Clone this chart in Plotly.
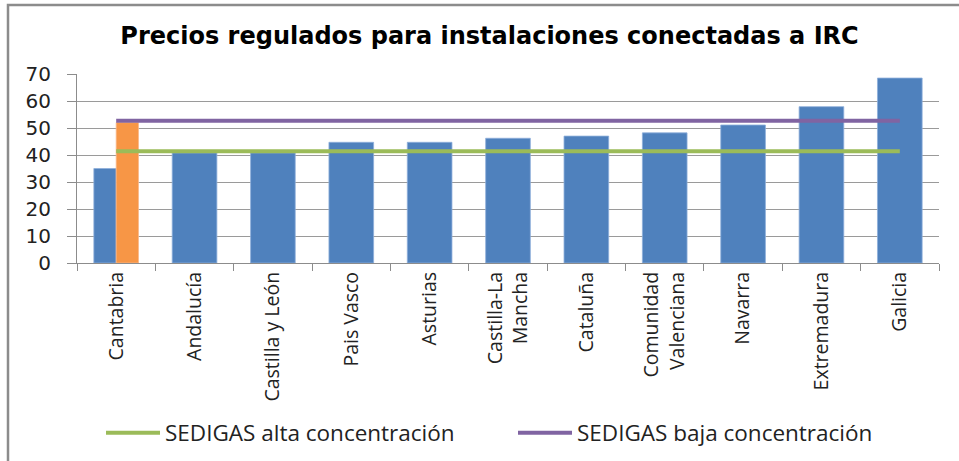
import plotly.graph_objects as go

categories = ["Cantabria", "Andalucía", "Castilla y León", "Pais Vasco", "Asturias",
              "Castilla-La<br>Mancha", "Cataluña", "Comunidad<br>Valenciana", "Navarra",
              "Extremadura", "Galicia"]
precios = [35.0, 40.8, 40.8, 44.7, 44.7, 46.2, 47.0, 48.2, 51.1, 57.9, 68.5]
cantabria_extra_cat = ["Cantabria"]
cantabria_extra = [52.0]
sedigas_alta = [41.4] * len(categories)
sedigas_baja = [52.7] * len(categories)
y_ticks = [0, 10, 20, 30, 40, 50, 60, 70]

BLUE = "#4F81BD"
ORANGE = "#F79646"
GREEN = "#9BBB59"
PURPLE = "#8064A2"

W, H = 959, 461
L, R, T, B = 77, 20, 74, 198
pw = W - L - R
ph = H - T - B

def px_x(x):
    return (x - L) / pw

def px_y(y):
    return (H - B - y) / ph

full_w = 0.57
half_w = 0.285
widths = [half_w] + [full_w] * (len(categories) - 1)
offsets = [-half_w] * len(categories)

fig = go.Figure()
fig.add_trace(go.Bar(x=categories, y=precios, width=widths, offset=offsets,
                     marker=dict(color=BLUE, line=dict(color="#8EAEDB", width=0.8)),
                     showlegend=False, hoverinfo="x+y"))
fig.add_trace(go.Bar(x=cantabria_extra_cat, y=cantabria_extra, width=[half_w], offset=[0],
                     marker=dict(color=ORANGE, line=dict(color="#FAB98A", width=0.8)),
                     showlegend=False))
fig.add_trace(go.Scatter(x=categories, y=sedigas_alta, mode="lines",
                         line=dict(color=GREEN, width=4),
                         name="SEDIGAS alta concentración"))
fig.add_trace(go.Scatter(x=categories, y=sedigas_baja, mode="lines",
                         line=dict(color=PURPLE, width=4),
                         name="SEDIGAS baja concentración"))

fig.update_layout(
    width=W, height=H,
    margin=dict(l=L, r=R, t=T, b=B, autoexpand=False),
    paper_bgcolor="white", plot_bgcolor="white",
    barmode="overlay",
    title=dict(text="<b>Precios regulados para instalaciones conectadas a IRC</b>",
               x=489.5 / W, xref="container", xanchor="center",
               y=1 - 36 / H, yref="container", yanchor="middle",
               font=dict(family="DejaVu Sans, sans-serif", size=24, color="black")),
    font=dict(family="Open Sans, sans-serif", size=17, color="#222222"),
    showlegend=True,
    legend=dict(orientation="h", x=px_x(101), xanchor="left", y=px_y(433), yanchor="middle",
                font=dict(family="Open Sans, sans-serif", size=22.5, color="#222222"),
                entrywidth=343, entrywidthmode="pixels", itemwidth=54,
                bgcolor="rgba(0,0,0,0)"),
    xaxis=dict(type="category", showline=True, linecolor="#8c8c8c", linewidth=1.2,
               ticks="outside", ticklen=7, tickcolor="#8c8c8c", tickson="boundaries",
               tickangle=-90, automargin=False,
               tickfont=dict(family="Open Sans, sans-serif", size=19.5, color="#222222"),
               showgrid=False, range=[-0.5, len(categories) - 0.5]),
    yaxis=dict(range=[0, 70], tickvals=y_ticks, showline=True, linecolor="#8c8c8c", linewidth=1.2,
               ticks="outside", ticklen=9, tickcolor="#8c8c8c", automargin=False,
               ticklabelstandoff=12,
               showgrid=True, gridcolor="#9a9a9a", gridwidth=1,
               tickfont=dict(family="DejaVu Sans, sans-serif", size=20, color="#222222"),
               zeroline=False),
    shapes=[dict(type="rect", xref="paper", yref="paper",
                 x0=px_x(8), x1=px_x(990), y0=px_y(500), y1=px_y(5),
                 line=dict(color="#8c8c8c", width=2.5), fillcolor="rgba(0,0,0,0)", layer="below")],
)

fig.write_html("out.html", config={"displayModeBar": False},
               post_script="document.body.style.margin='0';")
